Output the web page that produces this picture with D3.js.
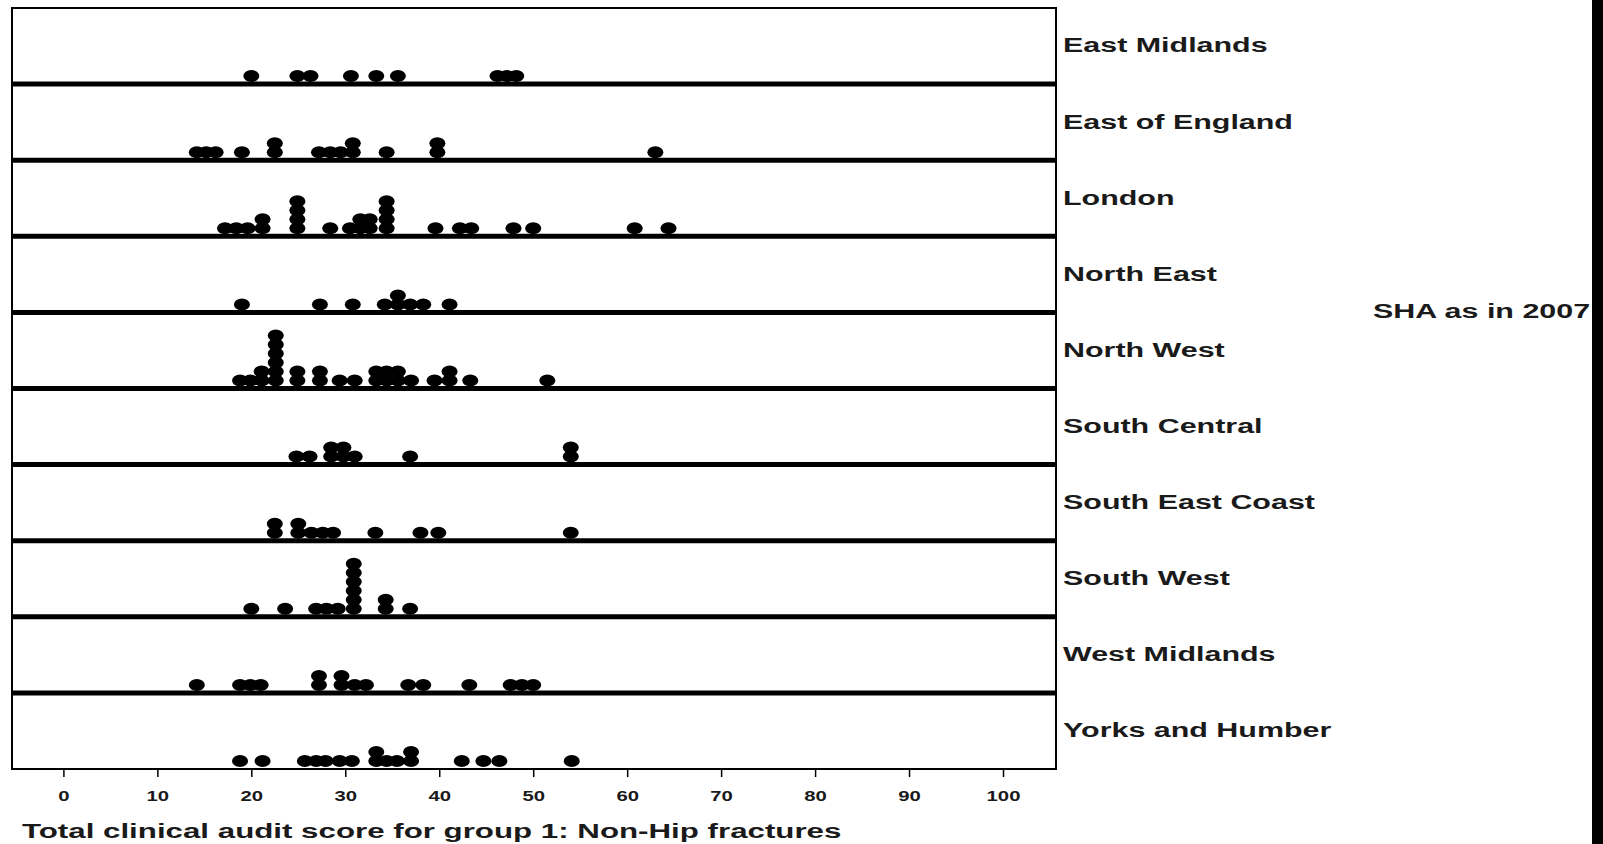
<!DOCTYPE html>
<html>
<head>
<meta charset="utf-8">
<script src="https://cdn.jsdelivr.net/npm/d3@7"></script>
<style>
  body { margin: 0; background: #fff; }
  svg text { font-family: "Liberation Sans", Arial, sans-serif; fill: #1a1a1a; }
</style>
</head>
<body>
<div id="chart"></div>
<script>
// regions (SHA) and the scores
var regions = ["East Midlands", "East of England", "London", "North East", "North West",
               "South Central", "South East Coast", "South West", "West Midlands", "Yorks and Humber"];

var eastMidlands = [20, 24.9, 26.3, 30.6, 33.3, 35.6, 46.2, 47.2, 48.2];
var eastOfEngland = [14.2, 15.2, 16.2, 19, 22.5, 22.5, 27.2, 28.4, 29.5, 30.8, 30.8, 34.4, 39.8, 39.8, 63];
var london = [17.2, 18.4, 19.6, 21.2, 21.2, 24.9, 24.9, 24.9, 24.9, 28.4, 30.5, 31.6, 31.6, 32.6, 32.6,
              34.4, 34.4, 34.4, 34.4, 39.6, 42.2, 43.4, 47.9, 50, 60.8, 64.4];
var northEast = [19, 27.3, 30.8, 34.2, 35.6, 35.6, 36.9, 38.3, 41.1];
var northWest = [18.8, 19.9, 21.1, 21.1, 22.6, 22.6, 22.6, 22.6, 22.6, 22.6, 24.9, 24.9, 27.3, 27.3,
                 29.4, 31, 33.3, 33.3, 34.4, 34.4, 35.6, 35.6, 37, 39.5, 41.1, 41.1, 43.3, 51.5];
var southCentral = [24.8, 26.2, 28.5, 28.5, 29.8, 29.8, 31, 36.9, 54, 54];
var southEastCoast = [22.5, 22.5, 25, 25, 26.4, 27.6, 28.7, 33.2, 38, 39.9, 54];
var southWest = [20, 23.6, 26.9, 28, 29.2, 30.9, 30.9, 30.9, 30.9, 30.9, 30.9, 34.3, 34.3, 36.9];
var westMidlands = [14.2, 18.8, 19.9, 21, 27.2, 27.2, 29.6, 29.6, 31, 32.2, 36.7, 38.3, 43.2, 47.6, 48.8, 50];
var yorksHumber = [18.8, 21.2, 25.7, 26.9, 27.9, 29.4, 30.7, 33.3, 33.3, 34.4, 35.5, 37, 37, 42.4, 44.7, 46.4, 54.1];

var scores = [eastMidlands, eastOfEngland, london, northEast, northWest,
              southCentral, southEastCoast, southWest, westMidlands, yorksHumber];

var tickValues = [0, 10, 20, 30, 40, 50, 60, 70, 80, 90, 100];

var width = 1603, height = 844;
var stretch = 1.45; // the original text is wide

var svg = d3.select("#chart").append("svg")
    .attr("width", width)
    .attr("height", height);

// x scale for the score, band scale for the stacked panels
var x = d3.scaleLinear().domain([0, 100]).range([63.4, 1003]);
var y = d3.scaleBand().domain(regions).range([8, 769]);

var frameLeft = 12, frameRight = 1056;

// panels
var panel = svg.selectAll(".panel")
    .data(regions)
    .enter().append("g")
    .attr("class", "panel")
    .attr("transform", function(d) { return "translate(0," + y(d) + ")"; });

panel.append("rect")
    .attr("x", frameLeft)
    .attr("y", 0)
    .attr("width", frameRight - frameLeft)
    .attr("height", y.bandwidth())
    .attr("fill", "none")
    .attr("stroke", "#000")
    .attr("stroke-width", 2);

// thick baseline under each inner panel
panel.filter(function(d, i) { return i < regions.length - 1; })
    .append("line")
    .attr("x1", frameLeft - 1)
    .attr("x2", frameRight + 1)
    .attr("y1", y.bandwidth())
    .attr("y2", y.bandwidth())
    .attr("stroke", "#000")
    .attr("stroke-width", 5);

// dots, stacked when a value repeats
var rx = 8, ry = 6, step = 9;
panel.each(function(name, i) {
    var seen = {};
    var pts = scores[i].map(function(v) {
        var k = seen[v] || 0;
        seen[v] = k + 1;
        return { v: v, k: k };
    });
    d3.select(this).selectAll("ellipse")
        .data(pts)
        .enter().append("ellipse")
        .attr("cx", function(d) { return x(d.v); })
        .attr("cy", function(d) { return y.bandwidth() - 2 - ry - d.k * step; })
        .attr("rx", rx)
        .attr("ry", ry)
        .attr("fill", "#000");
});

// panel labels on the right
panel.append("text")
    .attr("transform", "translate(1063," + (y.bandwidth() / 2 - 1) + ") scale(" + stretch + ",1)")
    .attr("dy", "0.35em")
    .attr("font-size", 21)
    .attr("font-weight", "bold")
    .text(function(d) { return d; });

// x axis
var axis = svg.append("g")
    .attr("transform", "translate(0,769)")
    .call(d3.axisBottom(x).tickValues(tickValues).tickSize(8).tickPadding(0));

axis.select(".domain").remove();
axis.selectAll(".tick line").attr("stroke", "#000").attr("stroke-width", 1.5);
axis.selectAll(".tick text")
    .attr("y", 32)
    .attr("dy", 0)
    .attr("transform", "scale(" + stretch + ",1)")
    .attr("font-size", 14)
    .attr("font-weight", "bold")
    .attr("font-family", "Liberation Sans, Arial, sans-serif")
    .attr("fill", "#1a1a1a");

// axis title
svg.append("text")
    .attr("transform", "translate(22,838) scale(1.49,1)")
    .attr("font-size", 21)
    .attr("font-weight", "bold")
    .text("Total clinical audit score for group 1: Non-Hip fractures");

// legend title for the panels
svg.append("text")
    .attr("transform", "translate(1373,311) scale(" + stretch + ",1)")
    .attr("dy", "0.35em")
    .attr("font-size", 21)
    .attr("font-weight", "bold")
    .text("SHA as in 2007");

// dark strip on the right edge
svg.append("rect")
    .attr("x", 1592)
    .attr("y", 0)
    .attr("width", width - 1592)
    .attr("height", height)
    .attr("fill", "#000");
</script>
</body>
</html>
